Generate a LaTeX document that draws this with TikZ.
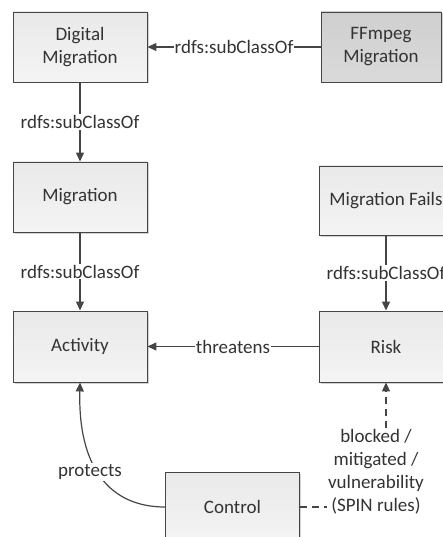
\documentclass[tikz,border=0pt]{standalone}
\usepackage{fontspec}
\setmainfont{Carlito}
\usetikzlibrary{arrows.meta,shadows}
\definecolor{linegray}{HTML}{454545}
\definecolor{textgray}{HTML}{333333}
\definecolor{boxtop}{HTML}{E9E9E9}
\definecolor{boxbot}{HTML}{F4F4F4}
\definecolor{darktop}{HTML}{CFCFCF}
\definecolor{darkbot}{HTML}{DADADA}
\tikzset{
  classbox/.style={draw=linegray, line width=0.9pt, rectangle,
    minimum width=134pt, minimum height=70pt, align=center,
    top color=boxtop, bottom color=boxbot, text=textgray,
    drop shadow={shadow xshift=1.5pt, shadow yshift=-1.5pt, fill=black!35, opacity=0.5}},
  darkbox/.style={classbox, top color=darktop, bottom color=darkbot},
  conn/.style={draw=linegray, line width=1.2pt, -{Triangle[length=9pt,width=8pt]}},
  plain/.style={draw=linegray, line width=1.2pt},
  edgelabel/.style={fill=white, inner sep=1pt, text=textgray, align=center},
  every node/.append style={font=\fontsize{19}{23}\selectfont}
}
\begin{document}
\begin{tikzpicture}[x=1pt,y=-1pt]
\useasboundingbox (0,0) rectangle (443,537);
\clip (0,0) rectangle (443,537);

% classes
\node[classbox] (dm) at (80,47) {Digital\\Migration};
\node[darkbox, minimum width=120pt] (ff) at (381,47) {FFmpeg\\Migration};
\node[classbox] (mig) at (80,197) {Migration};
\node[classbox, minimum height=69pt] (mf) at (386,200.5) {Migration Fails};
\node[classbox, minimum height=71pt] (act) at (80,346.5) {Activity};
\node[classbox, minimum height=71pt] (risk) at (386,346.5) {Risk};
\node[classbox] (ctl) at (232.5,507) {Control};

% subclass relations
\draw[conn] (ff.west) -- (dm.east)
  node[edgelabel, midway] (l1) {rdfs:subClassOf};
\draw[conn] (dm.south) -- (mig.north)
  node[edgelabel, midway] (l2) {rdfs:subClassOf};
\draw[conn] (mig.south) -- (act.north)
  node[edgelabel, midway] (l3) {rdfs:subClassOf};
\draw[conn] (mf.south) -- (risk.north)
  node[edgelabel, midway] (l4) {rdfs:subClassOf};

% threatens
\draw[conn] (risk.west) -- (act.east)
  node[edgelabel, midway] (l5) {threatens};

% protects
\coordinate (pc1) at (110,507);
\coordinate (pc2) at (78,468);
\draw[conn] (ctl.west) .. controls (pc1) and (pc2) .. (act.south);
\node[edgelabel] (l6) at (90,472) {protects};

% SPIN rules (dashed)
\node[edgelabel] (spin) at (376,472) {blocked /\\mitigated /\\vulnerability\\(SPIN rules)};
\draw[plain, dash pattern=on 7pt off 5pt] (ctl.east) -- (ctl.east -| spin.west);
\draw[conn, dash pattern=on 7pt off 5pt] (spin.north -| risk.south) -- (risk.south);
\end{tikzpicture}
\end{document}
